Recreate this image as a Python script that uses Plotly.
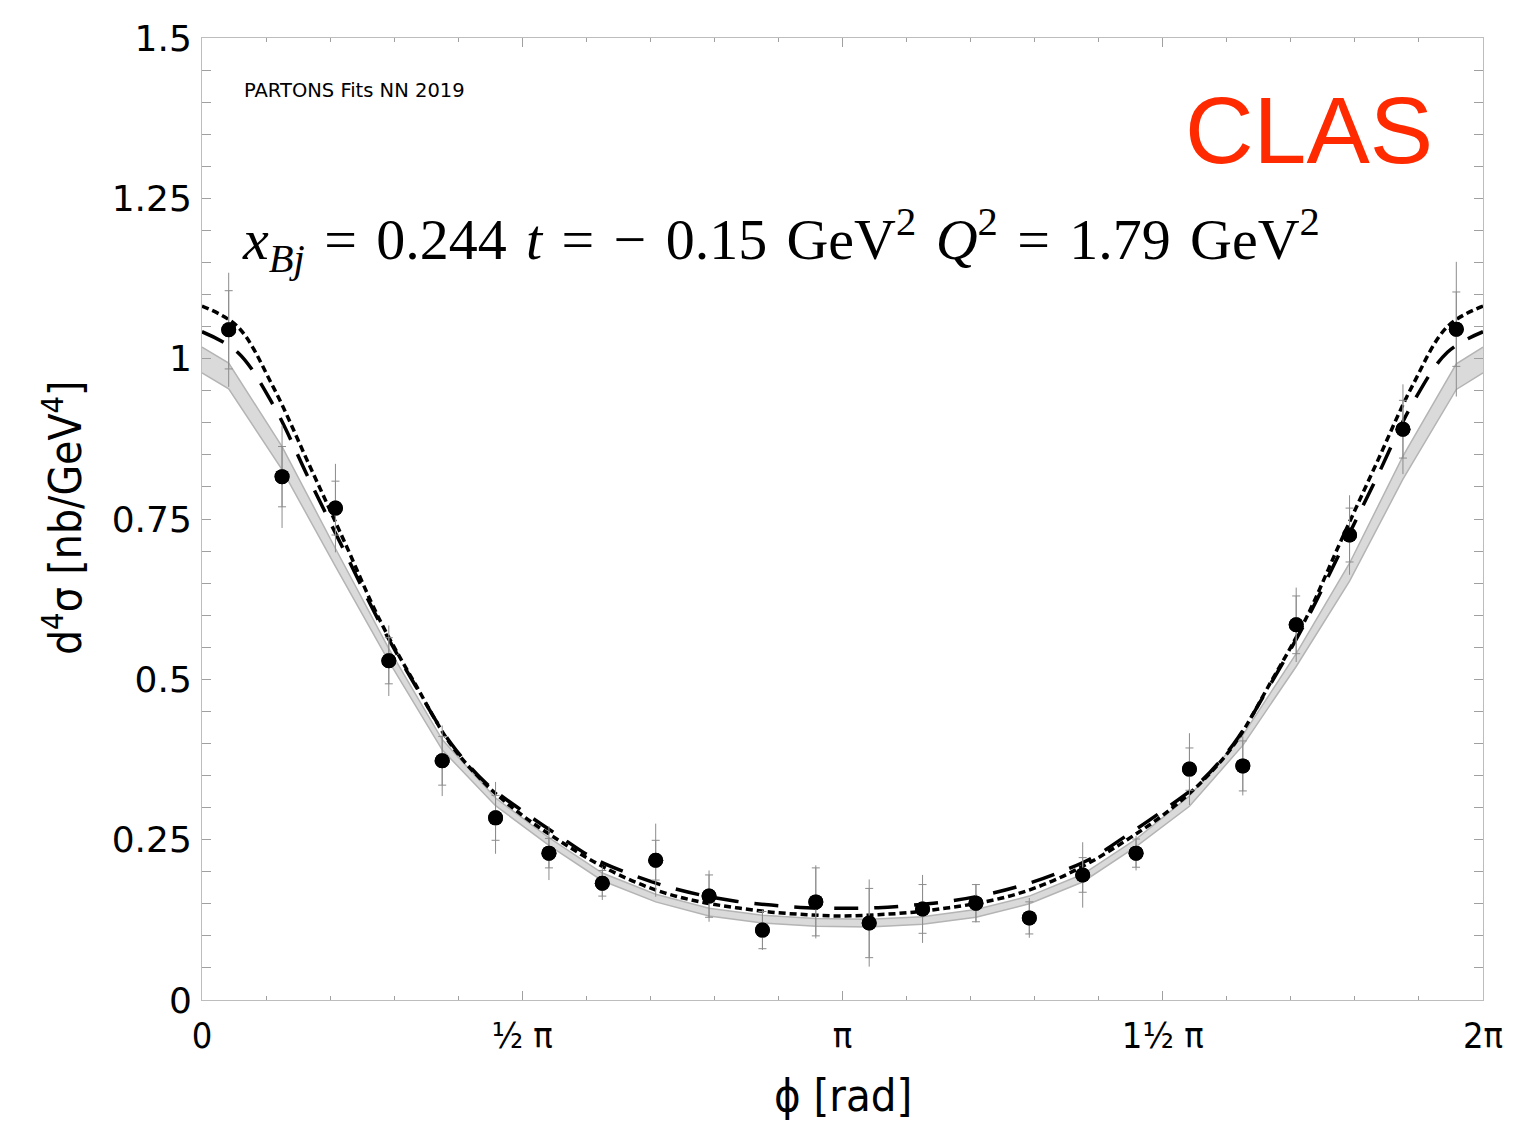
import numpy as np
import plotly.graph_objects as go

# CLAS DVCS cross section, x_Bj = 0.244, t = -0.15 GeV^2, Q^2 = 1.79 GeV^2
phi_data_deg = [7.5, 22.5, 37.5, 52.5, 67.5, 82.5, 97.5, 112.5, 127.5, 142.5, 157.5, 172.5,
                187.5, 202.5, 217.5, 232.5, 247.5, 262.5, 277.5, 292.5, 307.5, 322.5, 337.5, 352.5]
xsec = [1.045, 0.816, 0.767, 0.529, 0.373, 0.284, 0.229, 0.182, 0.218, 0.162, 0.109, 0.153,
        0.120, 0.142, 0.151, 0.128, 0.195, 0.229, 0.360, 0.365, 0.585, 0.725, 0.890, 1.046]
err_stat = [0.061, 0.047, 0.042, 0.036, 0.038, 0.035, 0.023, 0.020, 0.031, 0.033, 0.029, 0.053,
            0.054, 0.038, 0.029, 0.025, 0.027, 0.022, 0.033, 0.039, 0.045, 0.042, 0.045, 0.058]
err_total = [0.089, 0.080, 0.069, 0.055, 0.055, 0.056, 0.042, 0.026, 0.057, 0.040, 0.031, 0.057,
             0.068, 0.053, 0.030, 0.031, 0.051, 0.027, 0.056, 0.046, 0.058, 0.062, 0.070, 0.105]

# PARTONS NN fit uncertainty band
band_phi_deg = [0] + phi_data_deg + [360]
band_lo = [0.978, 0.953, 0.827, 0.676, 0.528, 0.390, 0.303, 0.241, 0.186, 0.153, 0.131, 0.120,
           0.115, 0.114, 0.118, 0.129, 0.150, 0.184, 0.239, 0.302, 0.397, 0.520, 0.653, 0.812,
           0.952, 0.978]
band_hi = [1.018, 0.993, 0.863, 0.704, 0.548, 0.406, 0.315, 0.253, 0.198, 0.165, 0.143, 0.132,
           0.127, 0.126, 0.130, 0.141, 0.162, 0.196, 0.251, 0.318, 0.413, 0.540, 0.681, 0.848,
           0.992, 1.018]

# model curves
curve_phi_deg = [0, 10, 20, 30, 40, 50, 60, 70, 80, 90, 100, 110, 120, 130, 140, 150, 160, 170, 180,
                 190, 200, 210, 220, 230, 240, 250, 260, 270, 280, 290, 300, 310, 320, 330, 340, 350, 360]
curve_dashed = [1.042, 1.010, 0.928, 0.813, 0.700, 0.588, 0.490, 0.400, 0.337, 0.295, 0.257, 0.221,
                0.197, 0.178, 0.164, 0.154, 0.148, 0.144, 0.143, 0.144, 0.148, 0.154, 0.164, 0.178,
                0.197, 0.221, 0.257, 0.295, 0.337, 0.400, 0.490, 0.588, 0.700, 0.813, 0.928, 1.010,
                1.042]
curve_dotted = [1.082, 1.050, 0.956, 0.836, 0.715, 0.592, 0.492, 0.398, 0.335, 0.288, 0.250, 0.216,
                0.188, 0.167, 0.153, 0.144, 0.137, 0.133, 0.131, 0.133, 0.137, 0.144, 0.153, 0.167,
                0.188, 0.216, 0.250, 0.288, 0.335, 0.398, 0.492, 0.592, 0.715, 0.836, 0.956, 1.050,
                1.082]

x_tickvals_rad = [0, np.pi / 2, np.pi, 3 * np.pi / 2, 2 * np.pi]
x_ticktext = ["0", "½ π", "π", "1½ π", "2π"]
y_tickvals = [0, 0.25, 0.5, 0.75, 1.0, 1.25, 1.5]
y_ticktext = ["0", "0.25", "0.5", "0.75", "1", "1.25", "1.5"]

rad = np.pi / 180.0
phi_data = np.array(phi_data_deg) * rad
band_phi = np.array(band_phi_deg) * rad
curve_phi = np.array(curve_phi_deg) * rad

fig = go.Figure()

# uncertainty band
fig.add_trace(go.Scatter(x=band_phi, y=band_lo, mode="lines",
                         line=dict(color="#b4b4b4", width=1.5), showlegend=False, hoverinfo="skip"))
fig.add_trace(go.Scatter(x=band_phi, y=band_hi, mode="lines", fill="tonexty",
                         fillcolor="#dadada", line=dict(color="#b4b4b4", width=1.5),
                         showlegend=False, hoverinfo="skip"))

fig.add_trace(go.Scatter(x=curve_phi, y=curve_dashed, mode="lines",
                         line=dict(color="black", width=3.5, dash="24px,16px", shape="spline",
                                   smoothing=1.0),
                         showlegend=False))
fig.add_trace(go.Scatter(x=curve_phi, y=curve_dotted, mode="lines",
                         line=dict(color="black", width=3.5, dash="7px,4px", shape="spline",
                                   smoothing=1.0),
                         showlegend=False))

# data: total uncertainty (no caps) and statistical uncertainty (capped)
fig.add_trace(go.Scatter(x=phi_data, y=xsec, mode="markers",
                         marker=dict(color="black", size=15),
                         error_y=dict(type="data", array=err_total, color="#8c8c8c",
                                      thickness=1, width=0),
                         showlegend=False))
fig.add_trace(go.Scatter(x=phi_data, y=xsec, mode="markers",
                         marker=dict(color="black", size=15),
                         error_y=dict(type="data", array=err_stat, color="#8c8c8c",
                                      thickness=1, width=4),
                         showlegend=False))

axis_line = "#bdbdbd"
fig.update_xaxes(range=[0, 2 * np.pi], tickmode="array", tickvals=x_tickvals_rad,
                 ticktext=x_ticktext, ticks="inside", ticklen=9, tickcolor="#a0a0a0",
                 showline=True, linecolor=axis_line, linewidth=1, mirror="allticks",
                 showgrid=False, zeroline=False,
                 tickfont=dict(family="DejaVu Sans Condensed, DejaVu Sans", size=36, color="black"),
                 ticklabelstandoff=4,
                 minor=dict(tickmode="linear", tick0=0, dtick=np.pi / 10, ticks="inside",
                            ticklen=4, tickcolor="#a0a0a0", showgrid=False))
fig.update_yaxes(range=[0, 1.5], tickmode="array", tickvals=y_tickvals, ticktext=y_ticktext,
                 ticks="inside", ticklen=9, tickcolor="#a0a0a0",
                 showline=True, linecolor=axis_line, linewidth=1, mirror="allticks",
                 showgrid=False, zeroline=False,
                 tickfont=dict(family="DejaVu Sans", size=36, color="black"),
                 ticklabelstandoff=2,
                 minor=dict(tickmode="linear", tick0=0, dtick=0.05, ticks="inside",
                            ticklen=9, tickcolor="#a0a0a0", showgrid=False))

gap = " \u200a"
kinematics = ("<i>x</i><sub><i>Bj</i></sub>" + gap + "=" + gap + "0.244" + gap + "<i>t</i>" + gap
              + "=" + gap + "−" + gap + "0.15" + gap + "GeV<sup>2</sup>" + gap
              + "<i>Q</i><sup>2</sup>" + gap + "=" + gap + "1.79" + gap + "GeV<sup>2</sup>")

annotations = [
    dict(text="ϕ [rad]", x=0.5, y=-0.099, xref="paper", yref="paper",
         xanchor="center", yanchor="middle", showarrow=False,
         font=dict(family="DejaVu Sans Condensed, DejaVu Sans", size=45, color="black")),
    dict(text="d<sup>4</sup>σ [nb/GeV<sup>4</sup>]", x=-0.1093, y=0.502, xref="paper", yref="paper",
         xanchor="center", yanchor="middle", textangle=-90, showarrow=False,
         font=dict(family="DejaVu Sans Condensed, DejaVu Sans", size=44, color="black")),
    dict(text="PARTONS Fits NN 2019", x=0.0312, y=0.945, xref="paper", yref="paper",
         xanchor="left", yanchor="middle", showarrow=False,
         font=dict(family="DejaVu Sans", size=19.5, color="black")),
    dict(text="CLAS", x=0.9625, y=0.904, xref="paper", yref="paper",
         xanchor="right", yanchor="middle", showarrow=False,
         font=dict(family="Liberation Sans, Arial", size=95, color="#ff2a00")),
    dict(text=kinematics,
         x=0.0297, y=0.79, xref="paper", yref="paper",
         xanchor="left", yanchor="middle", showarrow=False,
         font=dict(family="Liberation Serif, Times New Roman, serif", size=58, color="black")),
]

fig.update_layout(width=1538, height=1125, margin=dict(l=202, r=55, t=38, b=125),
                  plot_bgcolor="white", paper_bgcolor="white", annotations=annotations,
                  showlegend=False)

fig.write_html("out.html")
